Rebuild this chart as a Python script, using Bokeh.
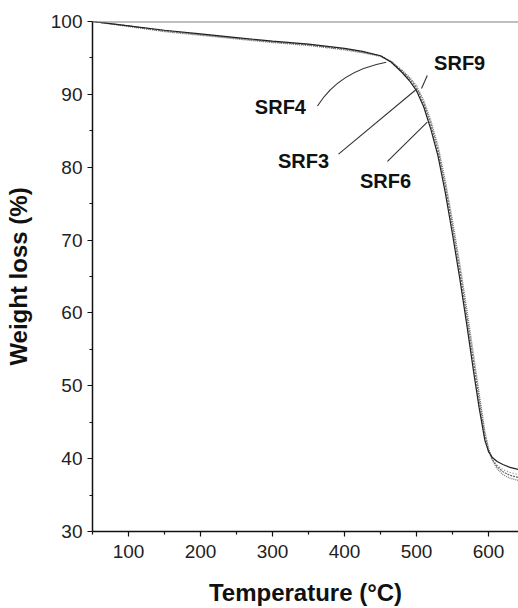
from bokeh.plotting import figure
from bokeh.models import Range1d, FixedTicker, Span, ColumnDataSource
from bokeh.core.properties import value
from bokeh.embed import file_html
from bokeh.resources import INLINE

temps = [50, 100, 150, 200, 250, 300, 350, 400, 425, 450, 465, 480, 490, 500, 510,
         520, 530, 540, 550, 560, 570, 580, 587, 595, 600, 605, 612, 620, 630, 642]
srf4 = [100, 99.4, 98.8, 98.3, 97.8, 97.3, 96.9, 96.3, 95.9, 95.3, 94.4, 93.0, 91.9, 90.5, 88.3,
        85.2, 81.5, 76.5, 70.8, 64.8, 58.3, 51.5, 47.0, 42.5, 41.0, 40.2, 39.6, 39.2, 38.8, 38.5]
srf3 = [100, 99.4, 98.7, 98.2, 97.7, 97.2, 96.8, 96.2, 95.8, 95.3, 94.5, 93.2, 92.2, 90.9, 88.8,
        85.9, 82.3, 77.5, 71.9, 66.0, 59.5, 52.8, 48.2, 43.2, 41.2, 39.9, 38.9, 38.2, 37.7, 37.4]
srf6 = [100, 99.3, 98.6, 98.1, 97.6, 97.1, 96.7, 96.1, 95.7, 95.2, 94.5, 93.3, 92.4, 91.2, 89.2,
        86.4, 82.9, 78.2, 72.7, 66.9, 60.5, 53.8, 49.0, 43.8, 41.5, 39.9, 38.6, 37.8, 37.3, 37.0]
srf9 = [100, 99.4, 98.7, 98.2, 97.7, 97.2, 96.8, 96.2, 95.8, 95.3, 94.4, 93.1, 92.0, 90.7, 88.6,
        85.6, 81.9, 77.0, 71.4, 65.4, 58.9, 52.1, 47.6, 42.8, 41.0, 40.0, 39.1, 38.5, 38.1, 37.8]

x_ticks = [100, 200, 300, 400, 500, 600]
x_minor = [50, 150, 250, 350, 450, 550, 650]
y_ticks = [30, 40, 50, 60, 70, 80, 90, 100]
y_minor = [35, 45, 55, 65, 75, 85, 95]

label_names = ["SRF4", "SRF9", "SRF3", "SRF6"]
label_x = [311, 560, 343, 457]
label_y = [88.2, 94.3, 80.8, 78.1]

# leader lines (start at label, end at curve)
lead_x0 = [507, 391.7, 459.7]
lead_y0 = [90.8, 81.8, 80.8]
lead_x1 = [515, 500, 515]
lead_y1 = [92.6, 90.7, 86.2]

FONT = "Liberation Sans"

p = figure(width=518, height=608, output_backend="svg", toolbar_location=None,
           x_range=Range1d(50, 641.7), y_range=Range1d(30, 100),
           min_border_left=92, min_border_right=0, min_border_top=21, min_border_bottom=76)
p.outline_line_color = None
p.xgrid.visible = False
p.ygrid.visible = False
p.background_fill_color = "white"
p.border_fill_color = "white"

p.add_layout(Span(location=100, dimension="width", line_color="#808080", line_width=2))

p.line(temps, srf6, line_color="#777777", line_width=1.2, line_dash="1 1")
p.line(temps, srf3, line_color="#666666", line_width=1.2, line_dash="2 1")
p.line(temps, srf9, line_color="#888888", line_width=1.2, line_dash="1 2")
p.line(temps, srf4, line_color="#222222", line_width=1.2)

p.segment(x0=lead_x0, y0=lead_y0, x1=lead_x1, y1=lead_y1, line_color="#333333", line_width=1.1)
p.quadratic(x0=[362.5], y0=[88.4], x1=[458], y1=[94.4], cx=[393], cy=[93.2],
            line_color="#333333", line_width=1.1)

src = ColumnDataSource(dict(x=label_x, y=label_y, t=label_names))
p.text(x="x", y="y", text="t", source=src, text_font=value(FONT), text_font_style="bold",
       text_font_size="20px", text_align="center", text_baseline="middle", text_color="#111111")

for ax in (p.xaxis[0], p.yaxis[0]):
    ax.axis_line_color = "#111111"
    ax.axis_line_width = 1.5
    ax.major_tick_line_color = "#111111"
    ax.minor_tick_line_color = "#111111"
    ax.major_tick_line_width = 1.2
    ax.minor_tick_line_width = 1.2
    ax.major_tick_out = 5
    ax.major_tick_in = 0
    ax.minor_tick_out = 3
    ax.minor_tick_in = 0
    ax.major_label_text_font = FONT
    ax.major_label_text_font_size = "19px"
    ax.major_label_text_color = "#222222"
    ax.axis_label_text_font = FONT
    ax.axis_label_text_font_style = "bold"
    ax.axis_label_text_font_size = "24px"
    ax.axis_label_text_color = "#111111"

p.xaxis.ticker = FixedTicker(ticks=x_ticks, minor_ticks=x_minor)
p.yaxis.ticker = FixedTicker(ticks=y_ticks, minor_ticks=y_minor)
p.xaxis.axis_label = "Temperature (°C)"
p.yaxis.axis_label = "Weight loss (%)"
p.xaxis.major_label_standoff = 8
p.xaxis.axis_label_standoff = 18
p.yaxis.major_label_standoff = 5
p.yaxis.axis_label_standoff = 16

open("out.html", "w").write(file_html(p, INLINE))
